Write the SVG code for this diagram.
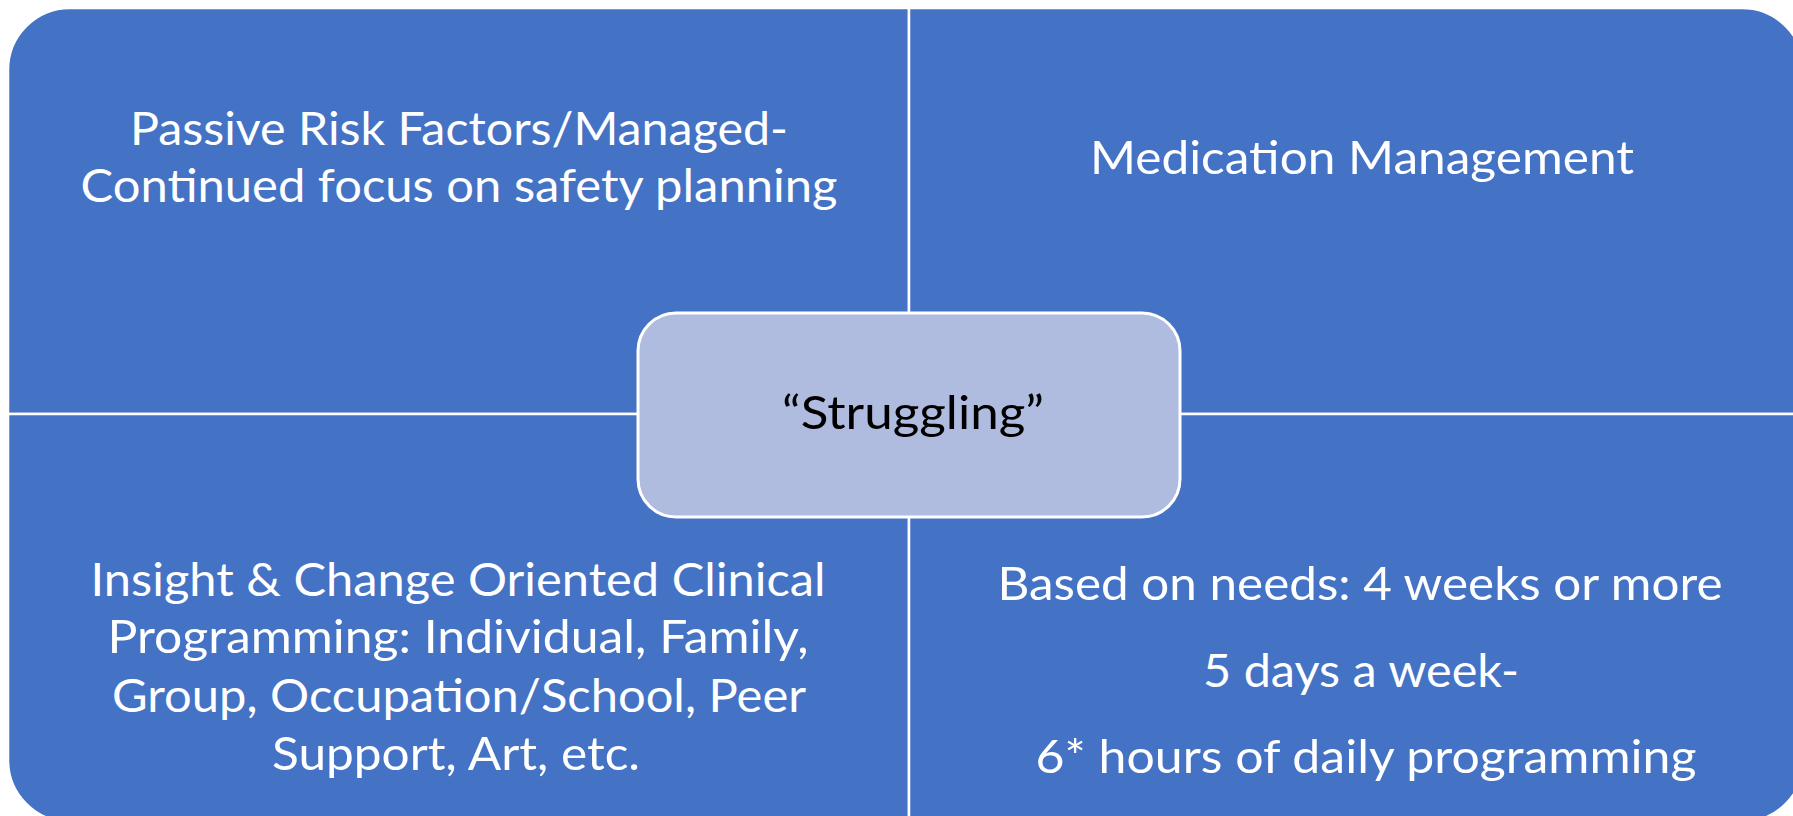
<svg xmlns="http://www.w3.org/2000/svg" width="1793" height="816" viewBox="0 0 1793 816">
  <style>
    .quad { fill: #4472C4; stroke: #FFFFFF; stroke-width: 2.5; }
    .center { fill: #AFBCDF; stroke: #FFFFFF; stroke-width: 3; }
    .lbl { font-family: "Lato", "Open Sans", "Liberation Sans", sans-serif; font-size: 47px; fill: #FFFFFF; text-anchor: middle; }
    .dark { fill: #000000; }
  </style>
  <rect x="0" y="0" width="1793" height="816" fill="#FFFFFF"/>
  <g id="quadrant-top-left">
    <path class="quad" d="M8,70 A62,62 0 0 1 70,8 L909,8 L909,414 L8,414 Z"/>
    <text class="lbl" x="459" y="145" textLength="658" lengthAdjust="spacingAndGlyphs">Passive Risk Factors/Managed-</text>
    <text class="lbl" x="459" y="202" textLength="757" lengthAdjust="spacingAndGlyphs">Continued focus on safety planning</text>
  </g>
  <g id="quadrant-top-right">
    <path class="quad" d="M909,8 L1742,8 A62,62 0 0 1 1804,70 L1804,414 L909,414 Z"/>
    <text class="lbl" x="1362" y="174" textLength="544" lengthAdjust="spacingAndGlyphs">Medication Management</text>
  </g>
  <g id="quadrant-bottom-left">
    <path class="quad" d="M8,414 L909,414 L909,822 L70,822 A62,62 0 0 1 8,760 Z"/>
    <text class="lbl" x="458" y="596" textLength="735" lengthAdjust="spacingAndGlyphs">Insight &amp; Change Oriented Clinical</text>
    <text class="lbl" x="458" y="653" textLength="701" lengthAdjust="spacingAndGlyphs">Programming: Individual, Family,</text>
    <text class="lbl" x="459" y="712" textLength="694" lengthAdjust="spacingAndGlyphs">Group, Occupation/School, Peer</text>
    <text class="lbl" x="456" y="770" textLength="368" lengthAdjust="spacingAndGlyphs">Support, Art, etc.</text>
  </g>
  <g id="quadrant-bottom-right">
    <path class="quad" d="M909,414 L1804,414 L1804,760 A62,62 0 0 1 1742,822 L909,822 Z"/>
    <text class="lbl" x="1360" y="600" textLength="725" lengthAdjust="spacingAndGlyphs">Based on needs: 4 weeks or more</text>
    <text class="lbl" x="1361" y="687" textLength="316" lengthAdjust="spacingAndGlyphs">5 days a week-</text>
    <text class="lbl" x="1366" y="773" textLength="661" lengthAdjust="spacingAndGlyphs">6* hours of daily programming</text>
  </g>
  <g id="connectors"></g>
  <g id="center-struggling">
    <rect class="center" x="638" y="313" width="542" height="204" rx="38" ry="38"/>
    <text class="lbl dark" x="913" y="429" textLength="262" lengthAdjust="spacingAndGlyphs">“Struggling”</text>
  </g>
</svg>
